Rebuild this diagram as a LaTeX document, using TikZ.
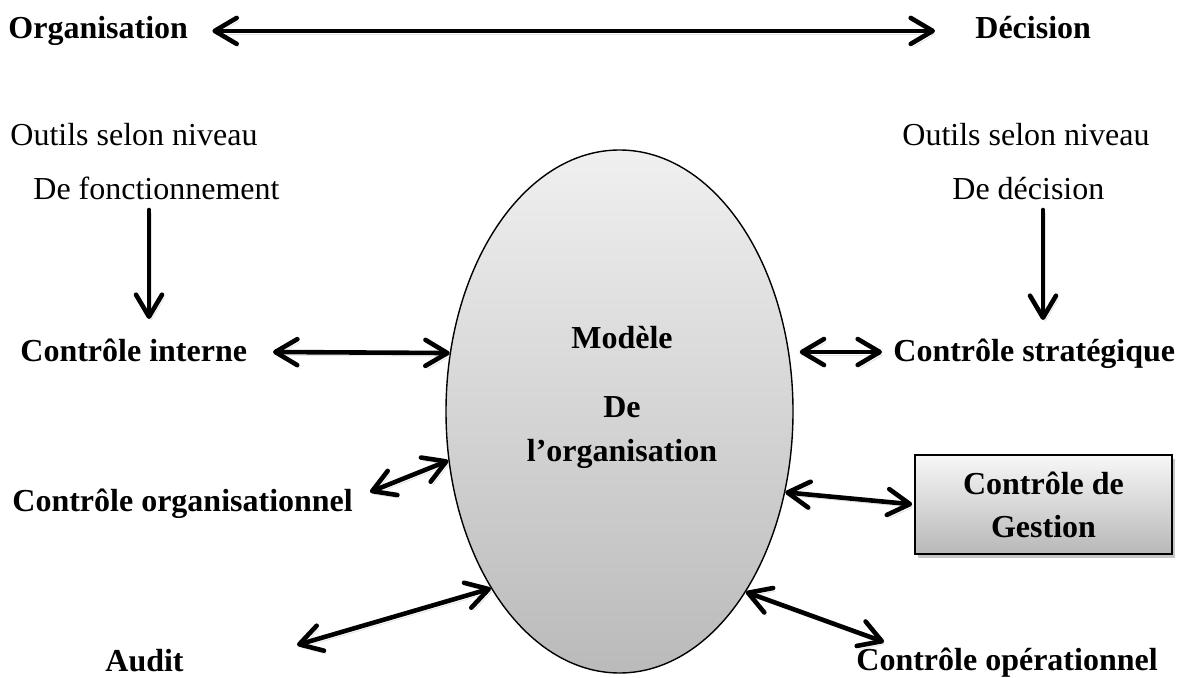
\documentclass[tikz,border=0pt]{standalone}
\usepackage{fontspec}
\setmainfont{Liberation Serif}
\usetikzlibrary{arrows.meta,shapes.geometric,shadows}
\begin{document}
\begin{tikzpicture}[x=0.5pt,y=-0.5pt,
  >={Straight Barb[length=11pt,width=13pt,round]},
  lbl/.style={inner sep=0pt, anchor=base west, font=\fontsize{16}{19}\selectfont},
  blbl/.style={inner sep=0pt, anchor=base west, font=\fontsize{16}{19}\selectfont\bfseries},
  ctext/.style={inner sep=0pt, anchor=base, font=\fontsize{16}{19}\selectfont\bfseries},
  soft/.style={preaction={draw=black!25, opacity=0.45, transform canvas={shift={(1.2pt,-1.6pt)}}}},
  link/.style={line width=2.3pt, line cap=round, line join=round, <->, soft},
  down/.style={line width=2.3pt, line cap=round, line join=round, ->, soft},
  model/.style={ellipse, draw, line width=0.7pt, top color=black!6, bottom color=black!27,
    minimum width=173.5pt, minimum height=261.5pt, inner sep=0pt},
  gbox/.style={draw, line width=0.8pt, top color=black!3, bottom color=black!28,
    minimum width=128.5pt, minimum height=49.5pt, inner sep=0pt, align=center,
    font=\fontsize{16}{21.5}\selectfont\bfseries,
    drop shadow={shadow xshift=1.5pt, shadow yshift=-1.8pt, opacity=0.45}}]
\useasboundingbox (0,0) rectangle (1181,678);

% top line: organisation <-> decision
\node[blbl] (org) at (8,38.5) {Organisation};
\node[blbl] (dec) at (975,38.5) {Décision};
\draw[link, shorten <=12pt, shorten >=20pt] (org.east) -- (org.east -| dec.west);

% tool levels
\node[lbl] (outL) at (10,146) {Outils selon niveau};
\node[lbl] (fonc) at (33,200) {De fonctionnement};
\node[lbl] (outR) at (902,146) {Outils selon niveau};
\node[lbl] (deci) at (952,200) {De décision};

% central model
\node[model] (modele) at (619.5,411.5) {};
\node[ctext] (m1) at (622,348.5) {Modèle};
\node[ctext] (m2) at (622,417.5) {De};
\node[ctext] (m3) at (622,461.5) {l’organisation};

% kinds of control
\node[blbl] (ci) at (20,361) {Contrôle interne};
\node[blbl] (cs) at (893,361) {Contrôle stratégique};
\node[blbl] (co) at (12,511) {Contrôle organisationnel};
\node[blbl] (au) at (105,671) {Audit};
\node[blbl] (cop) at (856,670) {Contrôle opérationnel};
\node[gbox] (gestion) at (1043.5,504.5) {Contrôle de\\Gestion};

% free ends of the connectors
\coordinate (dl1) at (149,210);
\coordinate (dl2) at (149,319);
\coordinate (dr1) at (1043,210);
\coordinate (dr2) at (1043,320);
\coordinate (ciA) at (273,352);
\coordinate (stA) at (882,352);
\coordinate (orA) at (370,492);
\coordinate (auA) at (297,645);
\coordinate (opA) at (884,642);

% connectors
\draw[down] (dl1) -- (dl2);
\draw[down] (dr1) -- (dr2);
\draw[link] (ciA) -- (modele.161);
\draw[link, shorten <=3pt] (modele.east |- stA) -- (stA);
\draw[link] (orA) -- (modele.196);
\draw[link, shorten >=1pt] (modele.-26) -- (gestion.west);
\draw[link] (auA) -- (modele.234);
\draw[link] (modele.-55) -- (opA);
\end{tikzpicture}
\end{document}
